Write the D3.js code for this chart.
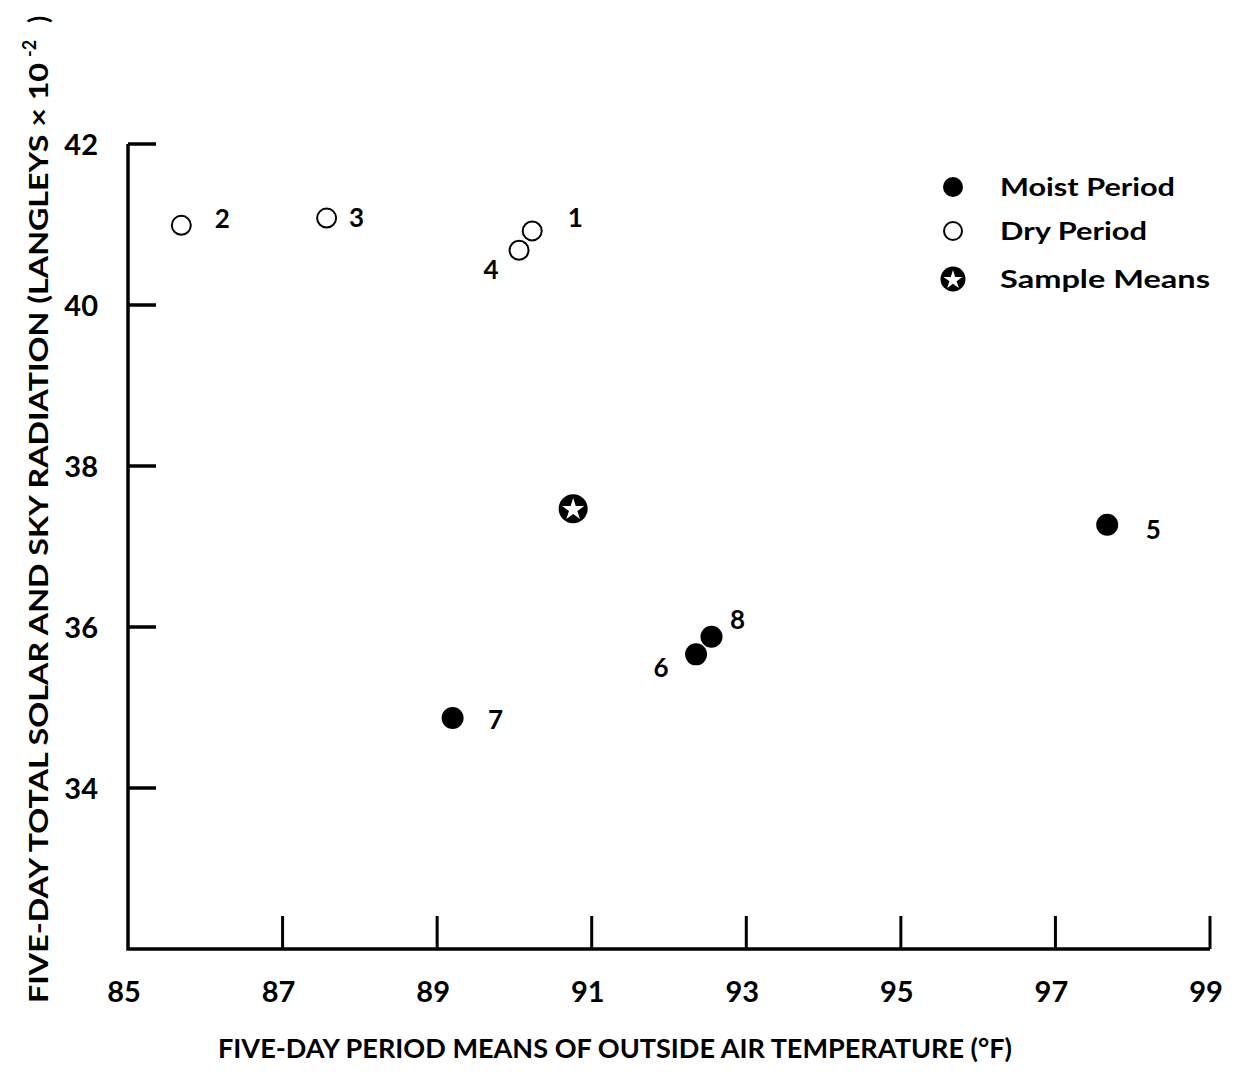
<!DOCTYPE html>
<html>
<head>
<meta charset="utf-8">
<script src="https://cdn.jsdelivr.net/npm/d3@7"></script>
<style>
  body { margin: 0; background: #fff; }
  svg { display: block; }
  text { font-family: Lato, "DejaVu Sans", sans-serif; font-weight: 700; fill: #000; }
</style>
</head>
<body>
<svg id="chart" width="1239" height="1072"></svg>
<script>
// data
const pointIds    = [1, 2, 3, 4, 5, 6, 7, 8];
const temperature = [90.23, 85.69, 87.57, 90.06, 97.67, 92.35, 89.20, 92.55];
const radiation   = [40.92, 40.99, 41.08, 40.68, 37.27, 35.66, 34.87, 35.88];
const period      = ["dry", "dry", "dry", "dry", "moist", "moist", "moist", "moist"];
const sampleMean  = [90.76, 37.47];

const xTicks = [85, 87, 89, 91, 93, 95, 97, 99];
const yTicks = [34, 36, 38, 40, 42];
const legendItems = ["Moist Period", "Dry Period", "Sample Means"];

// where each number sits relative to its point (dx, dy)
const labelOffset = {1: [43, -13], 2: [41, -6], 3: [30, 0], 4: [-28, 20],
                     5: [46, 5], 6: [-35, 14], 7: [43, 2], 8: [26, -17]};

const svg = d3.select("#chart");
const x = d3.scaleLinear().domain([85, 99]).range([128, 1210]);
const y = d3.scaleLinear().domain([32, 42]).range([949, 144]);

// axes frame
svg.append("path")
  .attr("d", `M${x(85)},${y(42)} V${y(32)} H${x(99)}`)
  .attr("fill", "none").attr("stroke", "#000").attr("stroke-width", 3.5);

svg.selectAll(".xtick").data(xTicks.filter(d => d > 85)).join("line")
  .attr("x1", d => x(d)).attr("x2", d => x(d))
  .attr("y1", y(32)).attr("y2", y(32) - 33)
  .attr("stroke", "#000").attr("stroke-width", 3);

svg.selectAll(".ytick").data(yTicks).join("line")
  .attr("x1", x(85)).attr("x2", x(85) + 28)
  .attr("y1", d => y(d)).attr("y2", d => y(d))
  .attr("stroke", "#000").attr("stroke-width", 3.5);

svg.selectAll(".xlab").data(xTicks).join("text")
  .attr("x", d => x(d) - 4).attr("y", 1002)
  .attr("text-anchor", "middle").attr("font-size", 29)
  .text(d => d);

svg.selectAll(".ylab").data(yTicks).join("text")
  .attr("x", 98).attr("y", d => y(d) + 11)
  .attr("text-anchor", "end").attr("font-size", 29)
  .text(d => d);

// axis titles
svg.append("text")
  .attr("x", 218).attr("y", 1058)
  .attr("font-size", 26)
  .attr("textLength", 794).attr("lengthAdjust", "spacingAndGlyphs")
  .text("FIVE-DAY PERIOD MEANS OF OUTSIDE AIR TEMPERATURE (°F)");

const yTitle = svg.append("g").attr("transform", "translate(48,1003) rotate(-90)");
yTitle.append("text")
  .attr("x", 0).attr("y", 0).attr("font-size", 26)
  .attr("textLength", 940).attr("lengthAdjust", "spacingAndGlyphs")
  .text("FIVE-DAY TOTAL SOLAR AND SKY RADIATION (LANGLEYS × 10");
yTitle.append("text")
  .attr("x", 946).attr("y", -12).attr("font-size", 18)
  .text("-2");
yTitle.append("text")
  .attr("x", 980).attr("y", 0).attr("font-size", 26)
  .text(")");

// points
const points = pointIds.map((id, i) => ({id, t: temperature[i], r: radiation[i], p: period[i]}));

svg.selectAll(".pt").data(points).join("circle")
  .attr("cx", d => x(d.t)).attr("cy", d => y(d.r))
  .attr("r", d => d.p === "moist" ? 11 : 9.5)
  .attr("fill", d => d.p === "moist" ? "#000" : "#fff")
  .attr("stroke", "#000")
  .attr("stroke-width", d => d.p === "moist" ? 0 : 2);

svg.selectAll(".ptlab").data(points).join("text")
  .attr("x", d => x(d.t) + labelOffset[d.id][0])
  .attr("y", d => y(d.r) + labelOffset[d.id][1] + 9)
  .attr("text-anchor", "middle").attr("font-size", 26)
  .text(d => d.id);

function starMarker(g, cx, cy, r, starSize) {
  g.append("circle").attr("cx", cx).attr("cy", cy).attr("r", r).attr("fill", "#000");
  g.append("path")
    .attr("d", d3.symbol(d3.symbolStar, starSize)())
    .attr("transform", `translate(${cx},${cy + 1})`)
    .attr("fill", "#fff");
}
starMarker(svg, x(sampleMean[0]), y(sampleMean[1]), 14.5, 150);

// legend
const legend = svg.append("g");
const legendY = [187, 231, 279];
legend.append("circle").attr("cx", 953).attr("cy", legendY[0]).attr("r", 10).attr("fill", "#000");
legend.append("circle").attr("cx", 953).attr("cy", legendY[1]).attr("r", 9)
  .attr("fill", "#fff").attr("stroke", "#000").attr("stroke-width", 2);
starMarker(legend, 953, legendY[2], 12.5, 110);

const legendWidth = [175, 147, 210];
legend.selectAll(".legtext").data(legendItems).join("text")
  .attr("x", 1000).attr("y", (d, i) => legendY[i] + 9)
  .attr("font-size", 24)
  .attr("textLength", (d, i) => legendWidth[i]).attr("lengthAdjust", "spacingAndGlyphs")
  .text(d => d);
</script>
</body>
</html>
